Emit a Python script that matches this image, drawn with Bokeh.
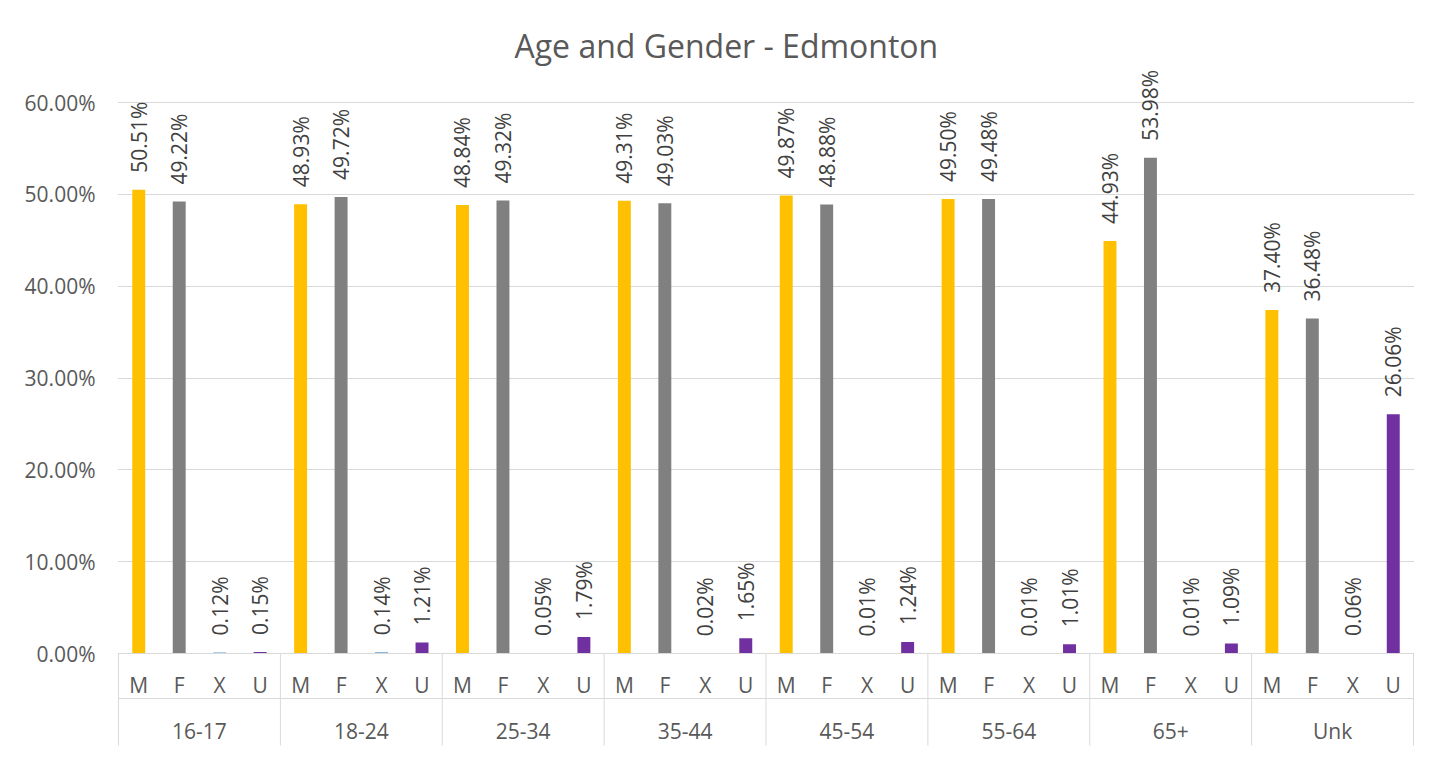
import math
from bokeh.plotting import figure
from bokeh.models import (ColumnDataSource, Range1d, FixedTicker, NumeralTickFormatter)
from bokeh.core.properties import value
from bokeh.embed import file_html
from bokeh.resources import INLINE

# ---- data ----
age_groups = ["16-17", "18-24", "25-34", "35-44", "45-54", "55-64", "65+", "Unk"]
genders = ["M", "F", "X", "U"]
pct_M = [50.51, 48.93, 48.84, 49.31, 49.87, 49.50, 44.93, 37.40]
pct_F = [49.22, 49.72, 49.32, 49.03, 48.88, 49.48, 53.98, 36.48]
pct_X = [0.12, 0.14, 0.05, 0.02, 0.01, 0.01, 0.01, 0.06]
pct_U = [0.15, 1.21, 1.79, 1.65, 1.24, 1.01, 1.09, 26.06]
y_ticks = [0.0, 0.1, 0.2, 0.3, 0.4, 0.5, 0.6]
title_text = "Age and Gender - Edmonton"

colors = {"M": "#FFC000", "F": "#808080", "X": "#5B9BD5", "U": "#7030A0"}
FONT = "Open Sans"
AXIS_TXT = "#595959"
LABEL_TXT = "#404040"
GRID = "#D9D9D9"

series = {"M": pct_M, "F": pct_F, "X": pct_X, "U": pct_U}
xs, tops, cols, labels, subs = [], [], [], [], []
for gi, g in enumerate(age_groups):
    for si, s in enumerate(genders):
        v = series[s][gi]
        xs.append(gi * len(genders) + si + 0.5)
        tops.append(v / 100.0)
        cols.append(colors[s])
        labels.append(f"{v:.2f}%")
        subs.append(s)
src = ColumnDataSource(dict(x=xs, top=tops, color=cols, label=labels, sub=subs))

n = len(age_groups) * len(genders)
px_per_unit = 551 / 0.6           # vertical scale (pixels per data unit)
frame_top_px = 68
zero_px = 653
height = 757
bottom_border = 2
left_border = 117
y_end = (zero_px - frame_top_px) / px_per_unit
y_start = -((height - bottom_border) - zero_px) / px_per_unit

p = figure(width=1444, height=height, output_backend="svg", toolbar_location=None,
           x_range=Range1d(-0.025, n + 0.025), y_range=Range1d(y_start, y_end),
           min_border_left=left_border, min_border_right=30, min_border_top=frame_top_px,
           min_border_bottom=bottom_border, title=title_text)
p.title.align = "left"
p.title.offset = 397
p.title.standoff = 4
p.title.text_font = FONT
p.title.text_font_size = "32px"
p.title.text_font_style = "normal"
p.title.text_color = AXIS_TXT
p.outline_line_color = None
p.xaxis.visible = False

yax = p.yaxis[0]
yax.ticker = FixedTicker(ticks=y_ticks)
yax.formatter = NumeralTickFormatter(format="0.00%")
yax.axis_line_color = None
yax.major_tick_line_color = None
yax.minor_tick_line_color = None
yax.major_tick_out = 0
yax.major_tick_in = 0
yax.major_label_standoff = 22
yax.major_label_text_font = FONT
yax.major_label_text_font_size = "21px"
yax.major_label_text_color = AXIS_TXT

p.xgrid.visible = False
p.ygrid.ticker = FixedTicker(ticks=y_ticks)
p.ygrid.grid_line_color = GRID
p.ygrid.grid_line_width = 1

# bars
p.vbar(x="x", top="top", bottom=0, width=0.32, fill_color="color", line_color=None, source=src)

# data labels (rotated)
p.text(x="x", y="top", text="label", source=src, angle=math.pi / 2,
       text_align="left", text_baseline="middle", y_offset=-17,
       text_font=value(FONT), text_font_size="21px", text_color=LABEL_TXT)

# category axis: axis line + separators
sep_bottom = -92 / px_per_unit
row_sep = -45 / px_per_unit
p.segment(x0=[0], y0=[0], x1=[n], y1=[0], line_color=GRID, line_width=1)
p.segment(x0=[0], y0=[row_sep], x1=[n], y1=[row_sep], line_color=GRID, line_width=1)
bounds = [gi * len(genders) for gi in range(len(age_groups) + 1)]
p.segment(x0=bounds, y0=[0] * len(bounds), x1=bounds, y1=[sep_bottom] * len(bounds),
          line_color=GRID, line_width=1)

# sub-category labels
p.text(x="x", y=0, text="sub", source=src, text_align="center", text_baseline="middle",
       y_offset=31, text_font=value(FONT), text_font_size="21px", text_color=AXIS_TXT)

# group labels
gsrc = ColumnDataSource(dict(x=[gi * len(genders) + len(genders) / 2 for gi in range(len(age_groups))],
                             g=age_groups))
p.text(x="x", y=0, text="g", source=gsrc, text_align="center", text_baseline="middle",
       y_offset=77, text_font=value(FONT), text_font_size="21px", text_color=AXIS_TXT)

open("out.html", "w").write(file_html(p, INLINE))
